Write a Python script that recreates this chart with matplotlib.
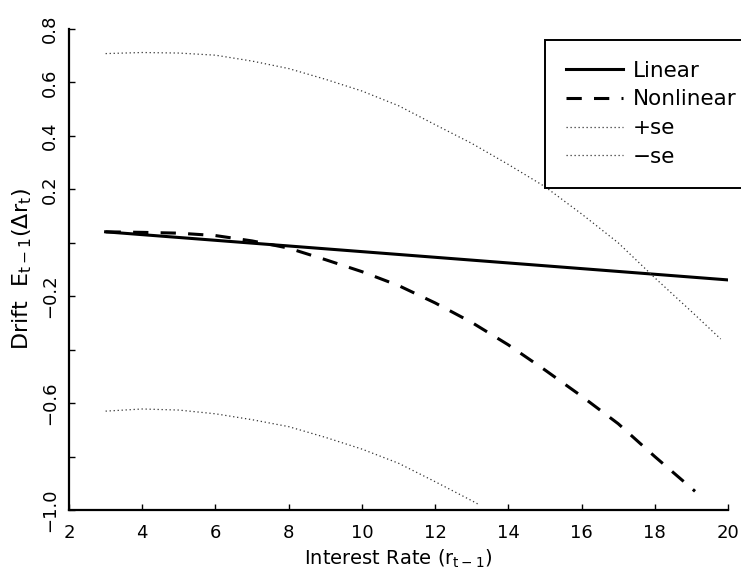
import matplotlib
matplotlib.use("Agg")
import matplotlib.pyplot as plt

# values
lin_x = [3, 20]
lin_y = [0.041, -0.139]

nl_x = [3, 4, 5, 6, 7, 8, 9, 10, 11, 12, 13, 14, 15, 16, 17, 18, 19.1]
nl_y = [0.041, 0.039, 0.036, 0.027, 0.007, -0.020, -0.063, -0.108, -0.160,
        -0.225, -0.298, -0.382, -0.476, -0.574, -0.677, -0.800, -0.930]

up_x = [3, 4, 5, 6, 7, 8, 9, 10, 11, 12, 13, 14, 15, 16, 17, 18, 19, 19.8]
up_y = [0.708, 0.712, 0.710, 0.702, 0.680, 0.652, 0.612, 0.568, 0.513, 0.442,
        0.372, 0.293, 0.210, 0.108, 0.000, -0.131, -0.257, -0.360]

lo_x = [3, 4, 5, 6, 7, 8, 9, 10, 11, 12, 13, 13.2]
lo_y = [-0.630, -0.622, -0.626, -0.640, -0.662, -0.688, -0.728, -0.772,
        -0.825, -0.894, -0.965, -0.980]

x_ticks = [2, 4, 6, 8, 10, 12, 14, 16, 18, 20]
y_ticks = [-1.0, -0.8, -0.6, -0.4, -0.2, 0.0, 0.2, 0.4, 0.6, 0.8]
y_labels = ["\u22121.0", "", "\u22120.6", "", "\u22120.2", "", "0.2", "0.4", "0.6", "0.8"]

plt.rcParams["font.family"] = ["DejaVu Sans"]
plt.rcParams["mathtext.default"] = "regular"

fig = plt.figure(figsize=(7.41, 5.74), dpi=100)
ax = fig.add_axes([69 / 741, 1 - 510 / 574, (728 - 69) / 741, (510 - 29) / 574])

ax.plot(lin_x, lin_y, color="black", lw=2.2, ls="-", label="Linear")
ax.plot(nl_x, nl_y, color="black", lw=2.2, ls=(0, (5, 4)), label="Nonlinear")
ax.plot(up_x, up_y, color="#333333", lw=0.9, ls=(0, (1, 2.2)), label="+se")
ax.plot(lo_x, lo_y, color="#333333", lw=0.9, ls=(0, (1, 2.2)), label="\u2212se")

ax.set_xlim(2, 20)
ax.set_ylim(-1.0, 0.8)
ax.set_xticks(x_ticks)
ax.set_yticks(y_ticks)
ax.set_yticklabels(y_labels, rotation=90, va="center")

for side in ("top", "right"):
    ax.spines[side].set_visible(False)
for side in ("left", "bottom"):
    ax.spines[side].set_linewidth(1.6)

ax.tick_params(direction="in", length=4.5, width=1, labelsize=13)
ax.tick_params(axis="x", pad=10)
ax.tick_params(axis="y", pad=7)

ax.set_xlabel(r"Interest Rate ($r_{t-1}$)", fontsize=14, labelpad=4)
ax.set_ylabel(r"Drift  $E_{t-1}(\Delta r_t)$", fontsize=16, labelpad=5)

leg = fig.legend(loc="upper left", bbox_to_anchor=(545 / 741, 1 - 40 / 574),
                 fontsize=15.5, frameon=True, fancybox=False, framealpha=1,
                 edgecolor="black", handlelength=2.65, handletextpad=0.47,
                 borderpad=0.97, labelspacing=0.4, borderaxespad=0)
leg.get_frame().set_linewidth(1.4)

fig.savefig("out.png", dpi=100)
